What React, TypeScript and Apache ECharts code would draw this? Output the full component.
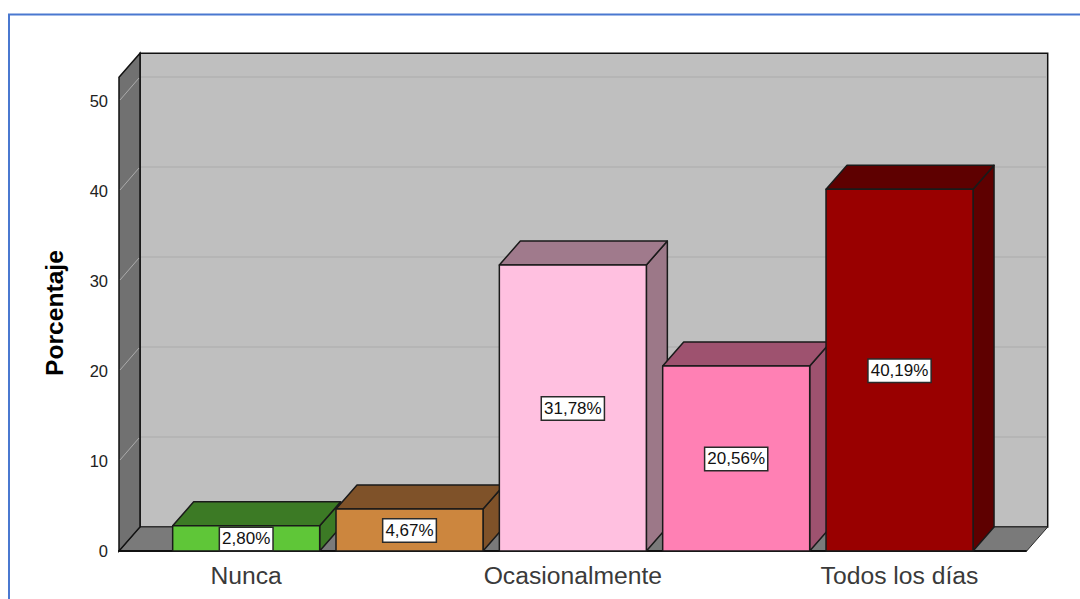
import React, { useEffect, useRef } from "react";
import * as echarts from "echarts";

const categories = ["Nunca", "", "Ocasionalmente", "", "Todos los días"];
const percentages = [2.8, 4.67, 31.78, 20.56, 40.19];
const gridValues = [10, 20, 30, 40, 50];
const wallTopValue = 52.63;

const frontColors = ["#5FC638", "#CC863E", "#FFC0E0", "#FF80B4", "#990000"];
const topColors = ["#3C7A25", "#7F5229", "#A07A8C", "#9E526F", "#5E0000"];
const sideColors = ["#3C7A25", "#7F5229", "#9C7888", "#9E526F", "#5E0000"];

const DX = 21;
const DY = -24;
const LEFT_EXT = 45.5;
const RIGHT_EXT = 45.5;

function wallsRender(params: any, api: any) {
  const cs = params.coordSys;
  const xl = cs.x - LEFT_EXT;
  const xr = cs.x + cs.width + RIGHT_EXT;
  const y0 = api.coord([0, 0])[1];
  const yt = api.coord([0, wallTopValue])[1];
  const edge = { stroke: "#111", lineWidth: 1.5 };
  const children: any[] = [
    { type: "polygon", shape: { points: [[xl + DX, yt + DY], [xr + DX, yt + DY], [xr + DX, y0 + DY], [xl + DX, y0 + DY]] }, style: { fill: "#BFBFBF", ...edge } },
    { type: "polygon", shape: { points: [[xl, y0], [xl + DX, y0 + DY], [xr + DX, y0 + DY], [xr, y0]] }, style: { fill: "#7A7A7A", stroke: "#2a2a2a", lineWidth: 1 } },
    { type: "polygon", shape: { points: [[xl, yt], [xl + DX, yt + DY], [xl + DX, y0 + DY], [xl, y0]] }, style: { fill: "#717171", ...edge } },
  ];
  gridValues.forEach((v) => {
    const y = api.coord([0, v])[1];
    children.push({ type: "line", shape: { x1: xl + DX + 1, y1: y + DY, x2: xr + DX - 1, y2: y + DY }, style: { stroke: "#B5B5B5", lineWidth: 2 } });
    children.push({ type: "line", shape: { x1: xl + 1, y1: y - 1, x2: xl + DX - 1, y2: y + DY + 1 }, style: { stroke: "#ABABAB", lineWidth: 1 } });
  });
  children.push({ type: "line", shape: { x1: xl - 1, y1: y0, x2: xr, y2: y0 }, style: { stroke: "#111", lineWidth: 2 } });
  return { type: "group", children };
}

function barRender(params: any, api: any) {
  const i = params.dataIndex;
  const cat = api.value(0);
  const value = api.value(1);
  const top = api.coord([cat, value]);
  const base = api.coord([cat, 0]);
  const w = api.size([1, 0])[0] * 0.9;
  const l = top[0] - w / 2;
  const r = top[0] + w / 2;
  const t = top[1];
  const b = base[1];
  const edge = { stroke: "#1a1a1a", lineWidth: 1.5, lineJoin: "round" };
  return {
    type: "group",
    children: [
      { type: "polygon", shape: { points: [[r, t], [r + DX, t + DY], [r + DX, b + DY], [r, b]] }, style: { fill: sideColors[i], ...edge } },
      { type: "polygon", shape: { points: [[l, t], [l + DX, t + DY], [r + DX, t + DY], [r, t]] }, style: { fill: topColors[i], ...edge } },
      { type: "polygon", shape: { points: [[l, t], [r, t], [r, b], [l, b]] }, style: { fill: frontColors[i], ...edge } },
      {
        type: "text",
        style: {
          text: value.toFixed(2).replace(".", ",") + "%",
          x: top[0],
          y: (t + b) / 2 + 0.5,
          align: "center",
          verticalAlign: "middle",
          fontFamily: "Liberation Sans",
          fontSize: 17,
          fill: "#111",
          backgroundColor: "#fff",
          borderColor: "#2a2a2a",
          borderWidth: 1.5,
          padding: [3, 2, 2, 2],
        },
      },
    ],
  };
}

export default function App() {
  const ref = useRef<HTMLDivElement>(null);
  useEffect(() => {
    document.body.style.margin = "0";
    const chart = echarts.init(ref.current!, null, { renderer: "svg" });
    chart.setOption({
      animation: false,
      backgroundColor: "#fff",
      graphic: [
        { type: "rect", z: -10, shape: { x: 9, y: 14.5, width: 1200, height: 800 }, style: { fill: "none", stroke: "#4A78D0", lineWidth: 2 } },
      ],
      grid: { left: 164.5, top: 101, width: 816.7, height: 450 },
      xAxis: {
        type: "category",
        data: categories,
        axisLine: { show: false },
        axisTick: { show: false },
        axisLabel: { interval: 0, color: "#3a3a3a", fontFamily: "Liberation Sans", fontSize: 24.7, margin: 12 },
      },
      yAxis: {
        type: "value",
        min: 0,
        max: 50,
        interval: 10,
        offset: LEFT_EXT,
        axisLine: { show: false },
        axisTick: { show: false },
        splitLine: { show: false },
        axisLabel: { color: "#222", fontFamily: "Liberation Sans", fontSize: 16.5, margin: 11, padding: [11, 0, 0, 0] },
        name: "Porcentaje",
        nameLocation: "middle",
        nameGap: 52,
        nameTextStyle: { color: "#000", fontFamily: "Liberation Sans", fontSize: 24.6, fontWeight: "bold", padding: [0, 0, 0, 26] },
      },
      series: [
        { type: "custom", name: "walls", renderItem: wallsRender, data: [[0, 0]], encode: { x: 0, y: 1 }, silent: true, z: 1 },
        {
          type: "custom",
          name: "Porcentaje",
          renderItem: barRender,
          data: percentages.map((v, i) => [i, v]),
          encode: { x: 0, y: 1 },
          silent: true,
          z: 2,
        },
      ],
    });
    return () => chart.dispose();
  }, []);
  return <div ref={ref} style={{ width: 1080, height: 599 }} />;
}
